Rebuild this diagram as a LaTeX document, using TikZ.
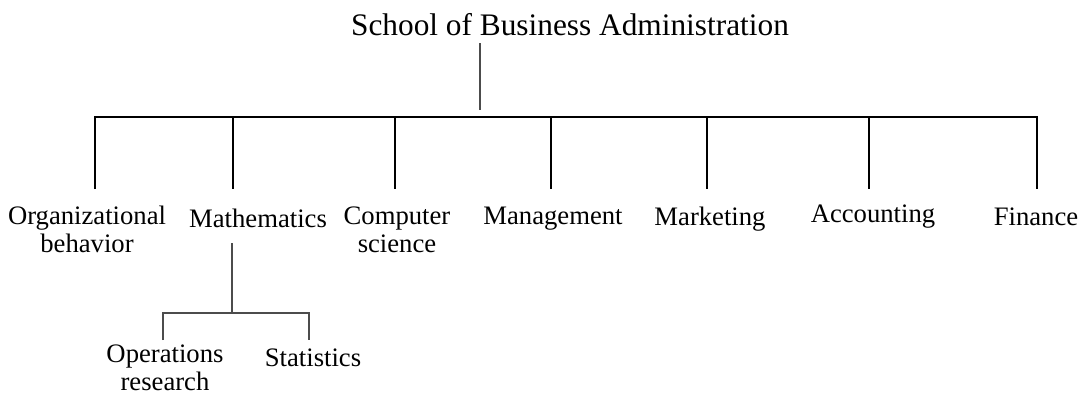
\documentclass[tikz,border=0pt]{standalone}
\usepackage{fontspec}
\setmainfont{Liberation Serif}
\usetikzlibrary{positioning}

\begin{document}
\begin{tikzpicture}[x=0.75pt,y=-0.75pt,
  dept/.style={anchor=north,inner sep=0,align=center,font=\fontsize{20}{21}\selectfont},
  bus/.style={line width=1.5pt,black},
  sub/.style={line width=0.9pt,black!70}]
\useasboundingbox (0,0) rectangle (1081,393);
% title
\node[anchor=base,inner sep=0,font=\fontsize{23.5}{26}\selectfont] (school) at (570,35) {School of Business Administration};
\coordinate (school-s) at (480,43);
\coordinate (school-e) at (480,110);
\draw[sub] (school-s) -- (school-e);
% departments
\node[dept] (org) at (87,206) {Organizational\\behavior};
\node[dept] (math) at (258,209) {Mathematics};
\node[dept] (comp) at (397,207) {Computer\\science};
\node[dept] (mgmt) at (553,207) {Management};
\node[dept] (mark) at (710,207) {Marketing};
\node[dept] (acc) at (873,205) {Accounting};
\node[dept] (fin) at (1036,208) {Finance};
% bus and drops
\foreach \n/\x in {org/95,math/233,comp/395,mgmt/551,mark/707,acc/869,fin/1037}{
  \coordinate (\n-b) at (\x,117);
  \coordinate (\n-t) at (\x,189);
}
\draw[bus] (org-t) -- (org-b) -- (fin-b) -- (fin-t);
\foreach \n in {math,comp,mgmt,mark,acc}
  \draw[bus] (\n-b) -- (\n-t);
% mathematics subtree
\node[dept] (ops) at (165,345) {Operations\\research};
\node[dept] (stat) at (313,349) {Statistics};
\coordinate (math-s) at (232,243);
\coordinate (math-j) at (232,313);
\coordinate (ops-t) at (163,340);
\coordinate (stat-t) at (309,340);
\draw[sub] (math-s) -- (math-j);
\draw[sub] (ops-t) |- (math-j) -| (stat-t);
\end{tikzpicture}
\end{document}
